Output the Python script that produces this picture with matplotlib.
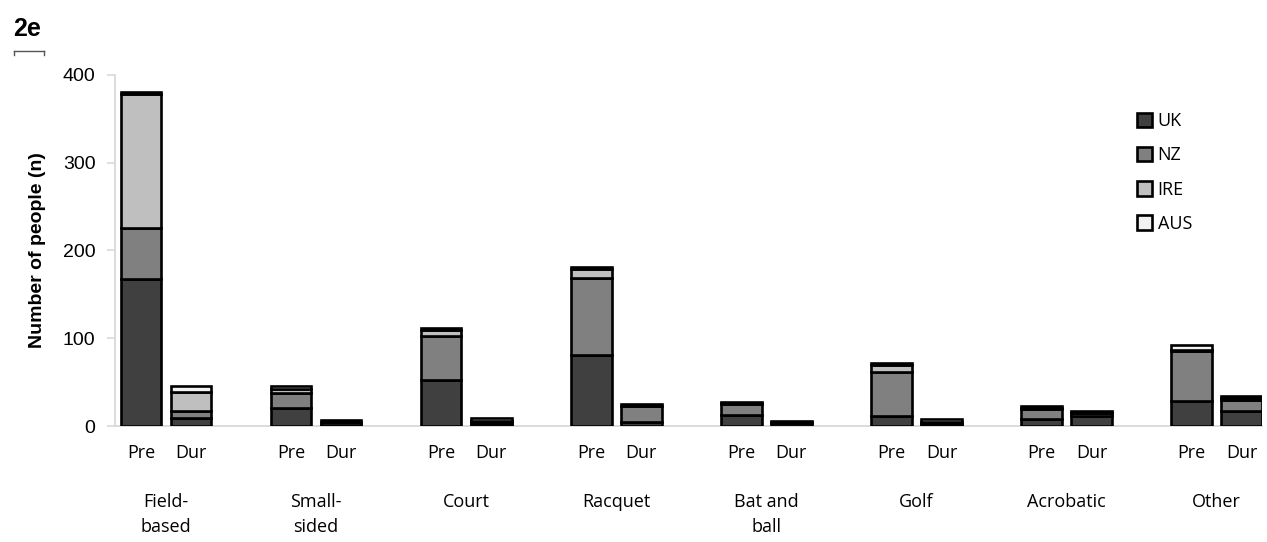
import matplotlib
import matplotlib.pyplot as plt
from matplotlib.patches import Patch
from matplotlib.lines import Line2D
import numpy as np

matplotlib.use('Agg')

categories = ['Field-\nbased', 'Small-\nsided', 'Court', 'Racquet', 'Bat and\nball', 'Golf', 'Acrobatic', 'Other']
periods = ['Pre', 'Dur']
countries = ['UK', 'NZ', 'IRE', 'AUS']

# values per category as (Pre, Dur)
uk = [(168, 9), (21, 1), (52, 2), (81, 5), (12, 3), (11, 2), (8, 11), (29, 17)]
nz = [(58, 8), (17, 3), (51, 3), (88, 18), (13, 2), (51, 2), (11, 4), (57, 13)]
ire = [(152, 22), (4, 1), (6, 1), (10, 0), (1, 0), (7, 1), (2, 1), (1, 2)]
aus = [(2, 7), (4, 2), (3, 3), (2, 2), (1, 1), (3, 3), (2, 1), (5, 2)]

colors = ['#404040', '#808080', '#bfbfbf', '#f2f2f2']

fig = plt.figure(figsize=(12.67, 5.42), dpi=100)
ax = fig.add_axes([0.0908, 0.214, 0.905, 0.648])

pos = []
for i in range(len(categories)):
    pos += [i * 3, i * 3 + 1]
pos = np.array(pos)

series = [uk, nz, ire, aus]
bottom = np.zeros(len(pos))
for name, data, col in zip(countries, series, colors):
    vals = np.array([v for pair in data for v in pair], dtype=float)
    ax.bar(pos, vals, width=0.81, bottom=bottom, color=col, edgecolor='black',
           linewidth=1.9, label=name, zorder=3)
    bottom += vals

ax.set_xlim(-0.52, 22.4)
ax.set_ylim(0, 400)
ax.set_yticks([0, 100, 200, 300, 400])
ax.tick_params(axis='y', direction='out', length=6, color='#d9d9d9', width=1.2,
               labelsize=14, pad=8)
for lab in ax.get_yticklabels():
    lab.set_family('Liberation Sans')

ax.set_xticks(pos)
ax.set_xticklabels(periods * len(categories), family='Open Sans', fontsize=13)
ax.tick_params(axis='x', length=0, pad=13)

for i, cat in enumerate(categories):
    ax.text(i * 3 + 0.5, -0.19, cat, transform=ax.get_xaxis_transform(),
            ha='center', va='top', family='Open Sans', fontsize=13, linespacing=1.5)

for side in ['top', 'right']:
    ax.spines[side].set_visible(False)
ax.spines['left'].set_color('#d9d9d9')
ax.spines['left'].set_linewidth(1.3)
ax.spines['bottom'].set_color('#d9d9d9')
ax.spines['bottom'].set_linewidth(1.3)

ax.set_ylabel('Number of people (n)', family='Liberation Sans', fontweight='bold',
              fontsize=14, labelpad=12)

handles = [Patch(facecolor=c, edgecolor='black', linewidth=1.9) for c in colors]
ax.legend(handles, countries, loc='upper left', bbox_to_anchor=(0.877, 0.94),
          frameon=False, prop={'family': 'Open Sans', 'size': 13},
          handlelength=0.85, handleheight=0.85, handletextpad=0.3, labelspacing=0.9)

fig.text(0.01, 0.968, '2e', fontsize=18, fontweight='bold', family='Liberation Sans',
         va='top', ha='left')
fig.add_artist(Line2D([0.011, 0.035], [0.905, 0.905], color='#555555', linewidth=1))
fig.add_artist(Line2D([0.011, 0.011], [0.905, 0.898], color='#555555', linewidth=1))
fig.add_artist(Line2D([0.035, 0.035], [0.905, 0.898], color='#555555', linewidth=1))

fig.savefig('out.png', dpi=100)
